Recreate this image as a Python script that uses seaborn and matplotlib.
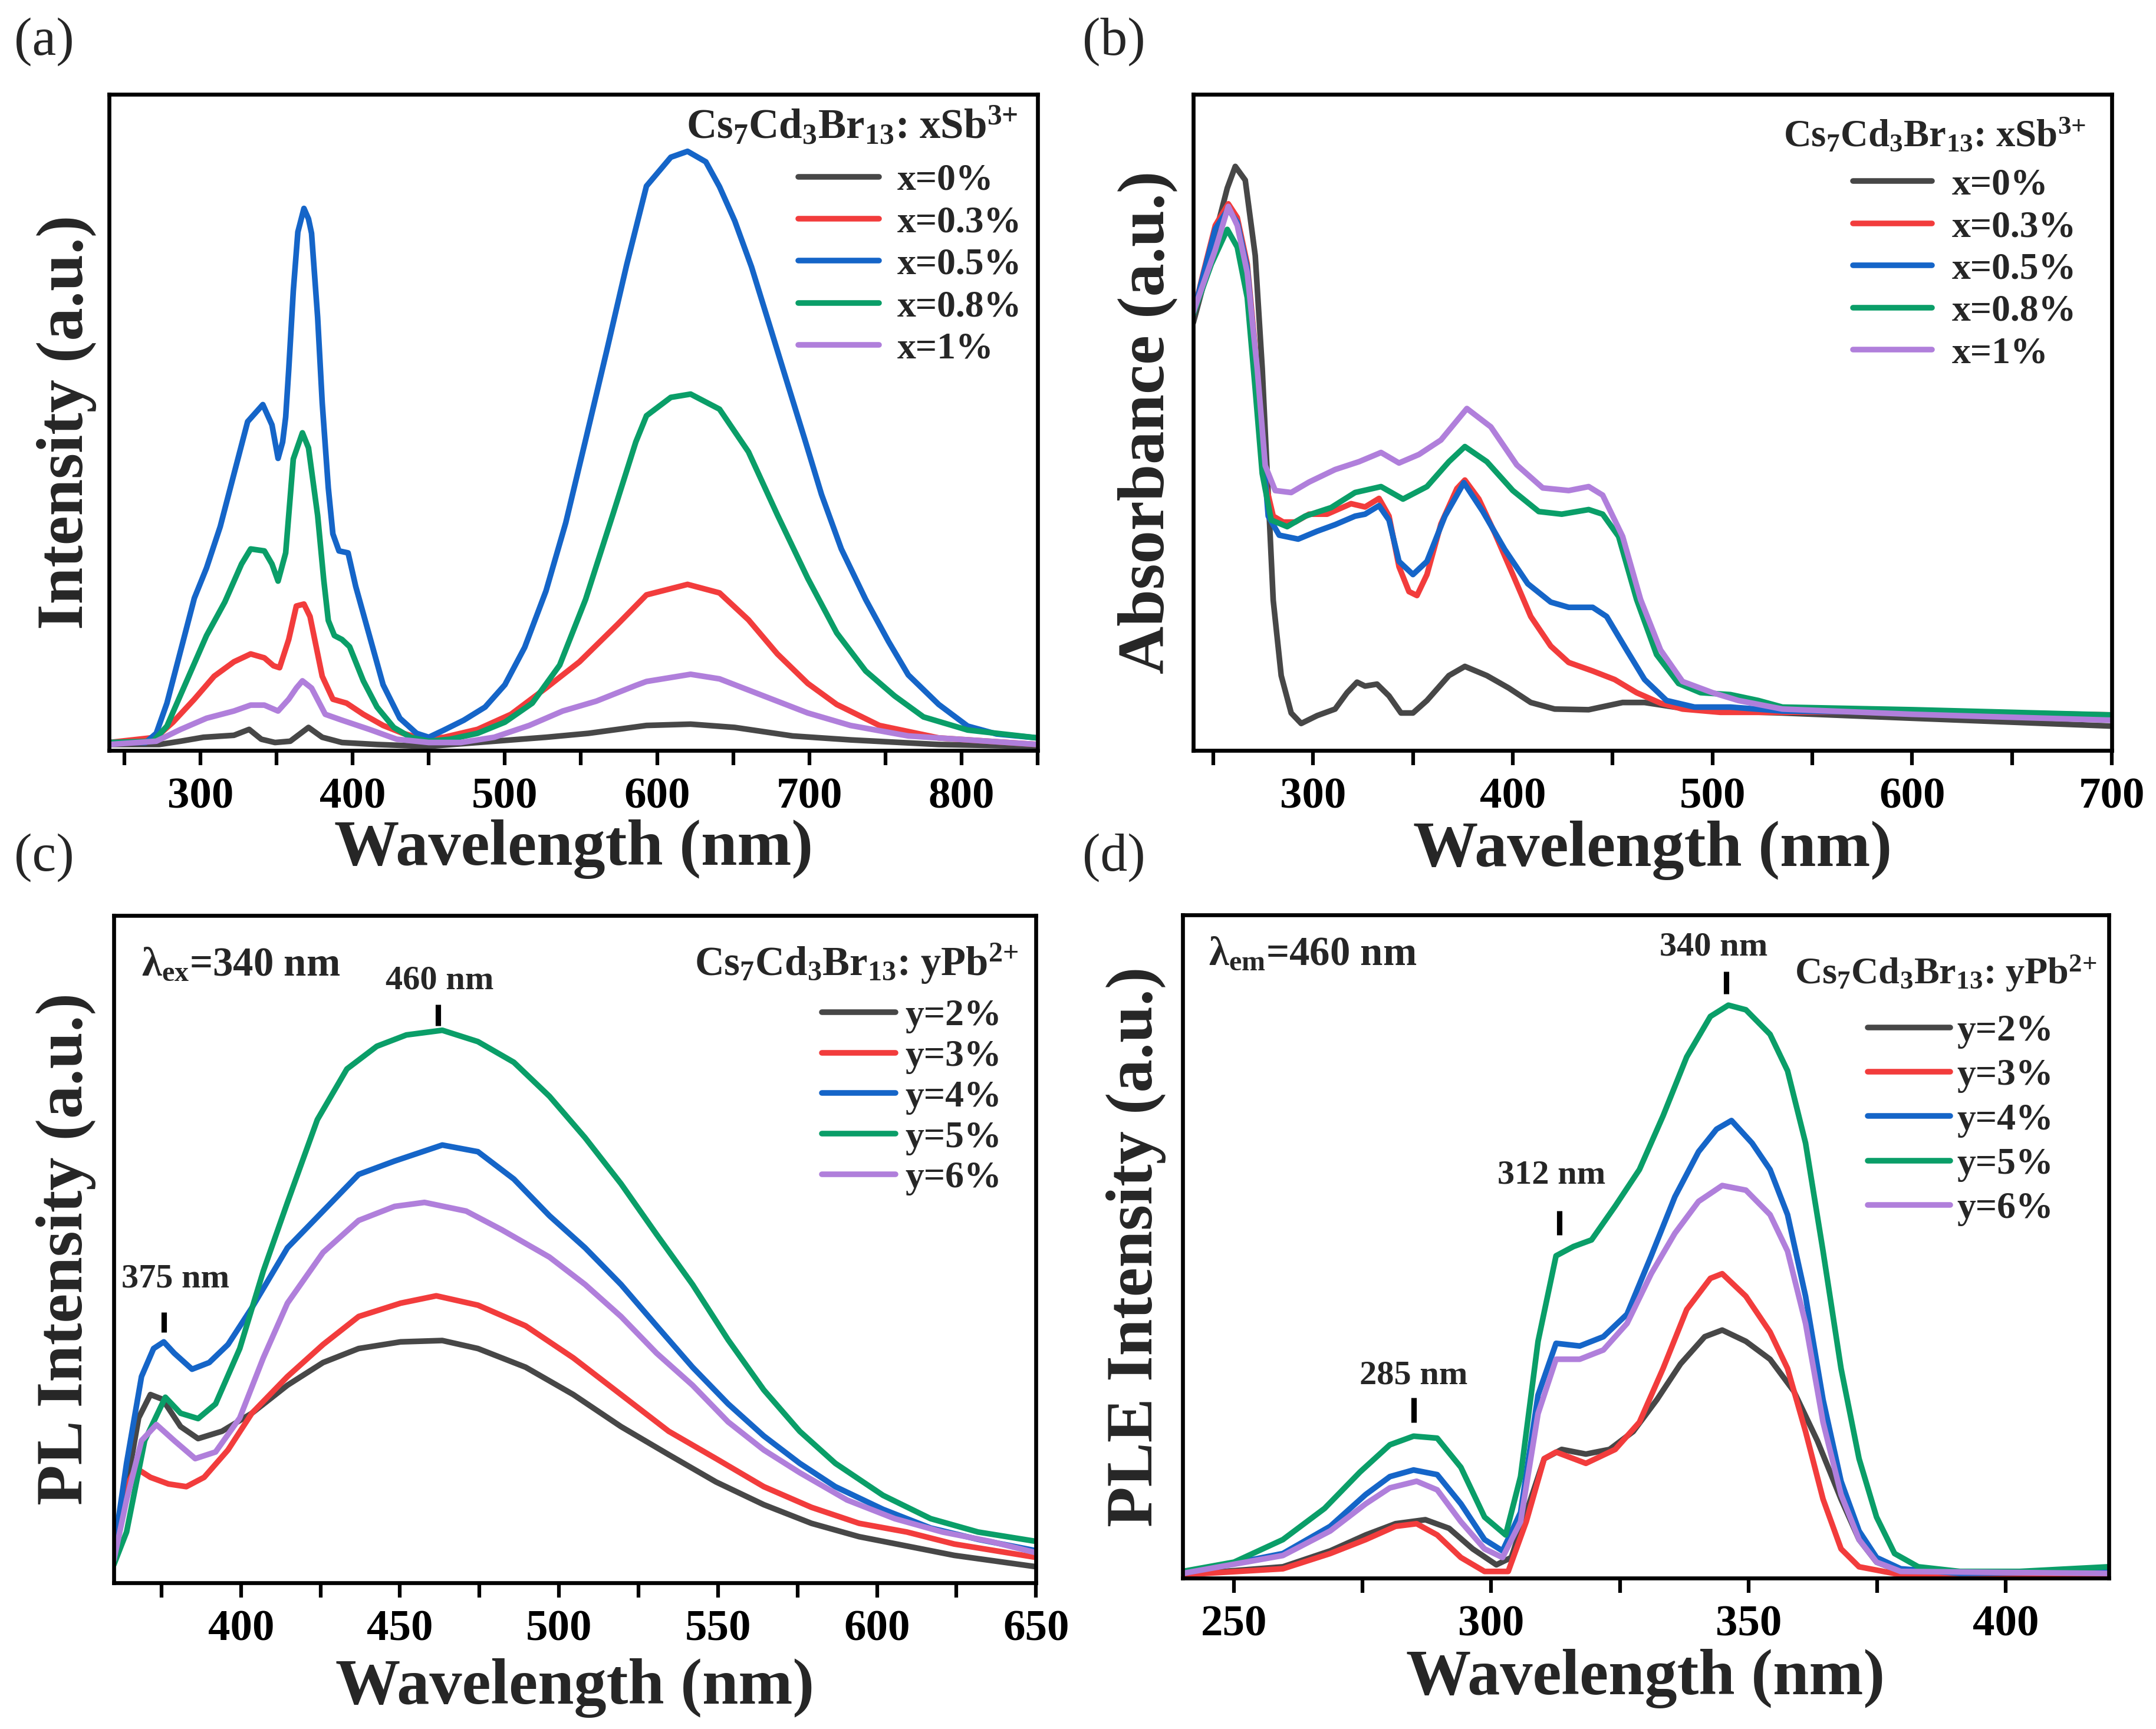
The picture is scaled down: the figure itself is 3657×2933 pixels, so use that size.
import matplotlib
matplotlib.use("Agg")
import matplotlib.pyplot as plt
from matplotlib.ticker import MultipleLocator
from matplotlib.lines import Line2D
import seaborn as sns

# ---------------- data (% of axis height) ----------------
# (a) PL of Cs7Cd3Br13: xSb3+
a_labels = ["x=0%", "x=0.3%", "x=0.5%", "x=0.8%", "x=1%"]
a_wl_0 = [240, 273, 287, 302, 322, 332, 340, 349, 359, 371, 380, 393, 416, 449, 482, 527, 555, 593, 622, 651, 689, 727, 785, 850]
a_in_0 = [0.9, 0.9, 1.4, 2.0, 2.3, 3.2, 1.7, 1.2, 1.4, 3.5, 2.0, 1.2, 0.9, 0.6, 1.2, 2.0, 2.6, 3.8, 4.0, 3.5, 2.2, 1.6, 0.9, 0.6]
a_wl_1 = [240, 271, 282, 296, 309, 322, 333, 342, 348, 352, 358, 363, 368, 372, 380, 387, 396, 407, 420, 433, 447, 460, 482, 504, 527, 549, 574, 593, 620, 641, 660, 679, 699, 718, 746, 785, 850]
a_in_1 = [1.2, 2.0, 4.3, 7.8, 11.3, 13.5, 14.7, 14.1, 12.9, 12.6, 16.9, 22.0, 22.3, 20.4, 11.3, 7.8, 7.2, 5.5, 3.8, 2.6, 1.7, 2.0, 3.2, 5.5, 9.5, 13.5, 19.2, 23.7, 25.3, 24.0, 19.9, 14.7, 10.2, 7.0, 3.8, 1.9, 0.9]
a_wl_2 = [240, 264, 271, 278, 287, 296, 304, 313, 322, 331, 341, 347, 351, 354, 356, 358, 361, 364, 368, 371, 373, 377, 380, 384, 387, 391, 397, 402, 411, 420, 431, 442, 450, 460, 473, 487, 500, 513, 527, 540, 553, 567, 580, 593, 609, 620, 632, 641, 651, 662, 674, 685, 697, 708, 721, 737, 752, 765, 785, 804, 823, 850]
a_in_2 = [1.2, 1.2, 2.6, 7.2, 15.2, 23.2, 27.8, 34.1, 42.1, 50.1, 52.7, 49.6, 44.5, 47.0, 50.8, 58.0, 70.0, 79.0, 82.6, 81.0, 78.8, 66.0, 53.0, 40.0, 33.0, 30.4, 30.1, 25.0, 17.5, 10.0, 4.9, 2.6, 2.0, 3.1, 4.6, 6.6, 10.0, 15.7, 24.3, 34.7, 47.3, 61.0, 74.0, 86.0, 90.4, 91.3, 89.7, 85.9, 80.7, 73.7, 64.7, 56.4, 47.4, 39.0, 30.7, 23.0, 16.6, 11.5, 7.0, 3.7, 2.5, 1.9]
a_wl_3 = [240, 269, 278, 291, 304, 316, 327, 333, 342, 347, 351, 356, 361, 367, 371, 377, 381, 384, 388, 393, 398, 407, 416, 427, 438, 450, 464, 482, 500, 518, 536, 553, 571, 586, 593, 609, 622, 641, 660, 679, 699, 718, 737, 756, 775, 804, 850]
a_in_3 = [1.2, 1.4, 3.7, 10.6, 17.5, 22.6, 28.4, 30.7, 30.4, 28.4, 25.8, 30.1, 44.4, 48.4, 46.1, 35.8, 26.0, 19.8, 17.5, 16.9, 15.8, 10.6, 6.6, 3.5, 2.0, 1.4, 1.7, 2.6, 4.3, 7.2, 13.0, 23.0, 36.0, 47.0, 51.0, 53.8, 54.3, 52.0, 45.5, 35.9, 26.2, 17.9, 12.1, 8.3, 5.1, 3.1, 1.9]
a_wl_4 = [240, 271, 287, 304, 322, 333, 342, 351, 358, 363, 367, 373, 382, 393, 411, 429, 450, 471, 493, 516, 538, 560, 586, 593, 622, 641, 670, 699, 727, 765, 850]
a_in_4 = [0.9, 1.4, 3.2, 4.9, 6.0, 6.9, 6.9, 6.0, 7.8, 9.5, 10.6, 9.5, 5.5, 4.6, 3.2, 1.7, 1.2, 1.2, 2.0, 3.8, 6.0, 7.5, 9.9, 10.5, 11.6, 10.9, 8.3, 5.7, 3.8, 2.2, 0.9]

# (b) absorbance of Cs7Cd3Br13: xSb3+
b_labels = ["x=0%", "x=0.3%", "x=0.5%", "x=0.8%", "x=1%"]
b_wl_0 = [240, 245, 251, 257, 261, 266, 271, 274.5, 277.5, 280, 284, 289, 294, 302, 311, 317, 322, 326, 332, 338, 344, 350, 357, 368, 376, 387, 398, 409, 421, 438, 455, 466, 481, 504, 535, 600, 700]
b_ab_0 = [65.2, 70.9, 78.6, 85.7, 89.0, 86.9, 75.4, 58.2, 39.0, 22.9, 11.4, 5.7, 4.1, 5.3, 6.3, 8.8, 10.4, 9.8, 10.1, 8.3, 5.7, 5.7, 7.6, 11.4, 12.8, 11.4, 9.5, 7.3, 6.3, 6.2, 7.3, 7.3, 6.6, 6.0, 5.7, 4.9, 3.7]
b_wl_1 = [240, 245, 251, 257.5, 262, 267, 271, 273.5, 276.5, 280, 285, 291, 298, 307, 319, 326, 333, 338, 343, 348, 352, 357, 364, 372, 376, 383, 391, 400, 409, 419, 428, 440, 451, 462, 474, 485, 504, 535, 600, 700]
b_ab_1 = [66.5, 72.8, 80.0, 83.3, 81.2, 74.1, 61.3, 48.5, 40.2, 35.7, 34.8, 34.8, 36.0, 36.0, 37.6, 37.1, 38.4, 35.7, 28.0, 24.2, 23.6, 26.8, 34.5, 39.9, 41.2, 38.3, 33.1, 26.8, 20.4, 15.9, 13.4, 12.1, 10.8, 8.8, 7.2, 6.3, 5.8, 5.8, 6.0, 5.4]
b_wl_2 = [240, 245, 251, 257.5, 262, 267, 271, 274.5, 277.5, 283, 292.5, 302, 311, 321, 326, 333, 338, 343, 350, 357, 366, 375.5, 385, 396, 407.5, 419, 428, 440, 447, 457, 466, 477, 491, 509, 535, 600, 700]
b_ab_2 = [66.5, 72.5, 79.5, 82.5, 80.5, 73.5, 60.5, 47.0, 35.7, 32.8, 32.2, 33.4, 34.4, 35.7, 36.0, 37.3, 35.1, 28.8, 26.8, 28.8, 35.7, 40.8, 36.4, 30.6, 25.4, 22.6, 21.8, 21.8, 20.4, 15.3, 10.8, 7.6, 6.6, 6.6, 6.0, 5.8, 5.2]
b_wl_3 = [240, 249, 257, 262, 267, 271, 274.5, 279, 287, 296, 309, 321, 334, 345, 357, 368, 376, 387, 400, 413, 424.5, 438, 445, 453, 462, 472, 483, 494, 509, 523, 535, 600, 700]
b_ab_3 = [66.5, 74.1, 79.4, 76.7, 69.0, 55.0, 42.2, 35.1, 34.1, 35.7, 37.0, 39.3, 40.2, 38.3, 40.2, 44.0, 46.3, 44.0, 39.6, 36.4, 36.0, 36.7, 36.0, 32.6, 23.0, 14.6, 10.2, 8.8, 8.5, 7.6, 6.6, 6.2, 5.4]
b_wl_4 = [240, 251, 257.5, 262, 267, 272, 276, 281, 289, 298, 311, 323, 334, 343, 353, 364, 377, 389, 402, 415, 428, 438, 445, 455, 464, 474, 485, 500, 513, 535, 600, 700]
b_ab_4 = [66.8, 76.3, 82.9, 80.0, 72.8, 58.2, 43.4, 39.6, 39.3, 40.9, 42.8, 44.0, 45.4, 43.8, 45.1, 47.3, 52.1, 49.3, 43.5, 40.0, 39.6, 40.2, 38.9, 32.6, 23.0, 15.3, 10.5, 8.8, 7.6, 6.3, 5.5, 4.6]

# (c) PL of Cs7Cd3Br13: yPb2+
c_labels = ["y=2%", "y=3%", "y=4%", "y=5%", "y=6%"]
c_wl_0 = [360, 364, 367.8, 371.5, 375.3, 381, 386.5, 394, 403.4, 414.6, 425.8, 437, 450.2, 463.3, 474.5, 489.5, 504.5, 519.5, 534.5, 549.4, 564.4, 579.4, 594.4, 609.4, 624.3, 650]
c_pl_0 = [6.2, 14.4, 24.7, 28.2, 27.5, 23.4, 21.6, 22.7, 25.4, 29.6, 33.0, 35.1, 36.1, 36.3, 35.1, 32.3, 28.2, 23.4, 19.2, 15.1, 11.7, 8.9, 6.9, 5.5, 4.1, 2.4]
c_wl_1 = [360, 364, 366.9, 371.5, 377.2, 382.8, 388.4, 395.9, 403.4, 414.6, 425.8, 437, 450.2, 461.4, 474.5, 489.5, 504.5, 519.5, 534.5, 549.4, 564.4, 579.4, 594.4, 609.4, 624.3, 650]
c_pl_1 = [5.5, 14.4, 17.2, 15.8, 14.8, 14.4, 15.8, 19.9, 25.4, 30.9, 35.7, 39.9, 41.9, 43.0, 41.6, 38.5, 33.7, 28.2, 22.7, 18.6, 14.4, 11.3, 8.9, 7.6, 5.8, 3.8]
c_wl_2 = [360, 364, 368.7, 372.5, 375.7, 379, 384.6, 390, 395.9, 403.4, 414.6, 425.8, 437, 448.3, 463.3, 474.5, 485.8, 497, 508.2, 519.5, 530.7, 542, 553.2, 564.4, 575.7, 586.9, 601.9, 616.9, 631.8, 650]
c_pl_2 = [4.8, 17.9, 30.9, 35.1, 36.1, 34.4, 32.0, 33.0, 35.7, 41.2, 50.2, 55.7, 61.2, 63.2, 65.6, 64.6, 60.5, 55.0, 50.2, 44.7, 38.5, 32.3, 26.8, 22.0, 17.9, 14.4, 11.0, 8.2, 6.5, 4.8]
c_wl_3 = [360, 364, 369.7, 376.2, 381, 386.5, 392, 399.6, 407, 414.6, 424, 433.3, 442.7, 452, 463.3, 474.5, 485.8, 497, 508.2, 519.5, 530.7, 542, 553.2, 564.4, 575.7, 586.9, 601.9, 616.9, 631.8, 650]
c_pl_3 = [2.7, 7.6, 21.3, 27.8, 25.4, 24.6, 26.8, 35.1, 46.7, 57.0, 69.4, 77.0, 80.4, 82.1, 82.8, 81.1, 78.0, 72.9, 66.7, 59.8, 52.2, 44.7, 36.4, 28.9, 22.7, 17.9, 13.1, 9.6, 7.6, 6.2]
c_wl_4 = [360, 364, 368.7, 373.4, 379, 385.6, 392, 399.6, 407, 414.6, 425.8, 437, 448.3, 457.7, 470.8, 482, 497, 508.2, 519.5, 530.7, 542, 553.2, 564.4, 575.7, 590.6, 605.6, 620.6, 635.6, 650]
c_pl_4 = [3.4, 12.4, 21.3, 23.7, 21.3, 18.6, 19.6, 24.7, 33.7, 41.9, 49.5, 54.3, 56.4, 57.0, 55.7, 52.9, 48.8, 44.7, 39.9, 34.4, 29.6, 24.1, 19.9, 16.5, 12.4, 9.6, 7.6, 6.2, 4.5]

# (d) PLE of Cs7Cd3Br13: yPb2+
d_labels = ["y=2%", "y=3%", "y=4%", "y=5%", "y=6%"]
d_wl_0 = [240, 259.5, 268.7, 275.6, 281.4, 287.2, 291.8, 296.4, 301, 303.9, 306.8, 310.3, 313.7, 318.4, 323, 327.6, 332.2, 336.8, 341.5, 344.9, 349.5, 354.2, 358.8, 363.4, 368, 371.5, 374.9, 379.6, 391, 420]
d_pl_0 = [0.5, 1.7, 4.1, 6.5, 8.2, 8.8, 7.5, 4.4, 2.0, 3.1, 9.9, 18.0, 19.4, 18.7, 19.4, 22.1, 26.9, 32.3, 36.4, 37.4, 35.7, 33.0, 28.2, 20.7, 11.9, 5.8, 2.4, 1.0, 0.5, 0.7]
d_wl_1 = [240, 259.5, 268.7, 275.6, 281.4, 285.5, 289.5, 294.1, 298.7, 303.3, 306.8, 310.3, 312.6, 318.4, 324.1, 328.8, 333.4, 338, 342.6, 344.9, 349.5, 354.2, 357.6, 361.1, 364.5, 368, 371.5, 379.6, 420]
d_pl_1 = [0.5, 1.4, 3.7, 5.8, 7.8, 8.2, 6.5, 3.1, 1.0, 1.0, 8.5, 18.0, 19.0, 17.3, 19.4, 23.5, 31.6, 40.5, 45.2, 45.9, 42.5, 37.1, 31.6, 22.1, 11.9, 4.4, 1.7, 0.5, 0.3]
d_wl_2 = [240, 259.5, 268.7, 275.6, 280.3, 284.9, 289.5, 294.1, 298.7, 302.2, 305.7, 309.1, 312.6, 317.2, 321.8, 326.4, 331.1, 335.7, 340.3, 343.8, 346.7, 350.7, 354.2, 357.6, 361.1, 364.5, 368, 371.5, 374.9, 379.6, 391.1, 420]
d_pl_2 = [0.7, 3.7, 7.8, 12.6, 15.3, 16.3, 15.6, 11.2, 5.8, 4.1, 9.9, 27.6, 35.4, 35.0, 36.4, 39.8, 48.6, 57.5, 64.3, 67.7, 69.0, 65.6, 61.6, 54.8, 42.5, 26.9, 14.6, 7.1, 3.1, 1.4, 0.7, 1.0]
d_wl_3 = [240, 250, 259.5, 267.6, 274.5, 280.3, 284.9, 289.5, 294.1, 298.7, 302.8, 305.7, 309.1, 312.6, 316, 319.5, 324.1, 328.8, 333.4, 338, 342.6, 346.1, 349.5, 354.2, 357.6, 361.1, 364.5, 368, 371.5, 374.9, 378.4, 383, 391.1, 402.7, 420]
d_pl_3 = [1.0, 2.4, 5.8, 10.5, 16.0, 20.1, 21.4, 21.1, 16.7, 9.2, 6.5, 15.3, 35.7, 48.6, 50.0, 51.0, 56.1, 61.6, 69.7, 78.6, 84.7, 86.4, 85.7, 82.0, 76.5, 65.6, 49.3, 31.6, 18.0, 9.2, 3.7, 1.7, 1.0, 1.0, 1.7]
d_wl_4 = [240, 259.5, 268.7, 275.6, 280.3, 285.5, 289.5, 294.1, 298.7, 302.2, 305.7, 309.1, 312.6, 317.2, 321.8, 326.4, 331.1, 335.7, 340.3, 344.9, 349.5, 354.2, 357.6, 361.1, 364.5, 368, 371.5, 374.9, 379.6, 420]
d_pl_4 = [0.7, 3.4, 7.1, 11.2, 13.6, 14.6, 13.3, 8.5, 4.4, 3.1, 8.5, 24.8, 33.0, 33.0, 34.4, 38.4, 45.9, 52.0, 56.8, 59.2, 58.5, 54.8, 49.3, 38.4, 23.5, 12.6, 5.8, 2.4, 1.0, 0.7]

# peak annotations: (text, text x, text baseline y, tick x, tick y0, tick y1)
c_marks = [("460 nm", 462.4, 89.0, 462.0, 83.5, 86.7), ("375 nm", 379.4, 44.3, 375.7, 37.5, 40.5)]
d_marks = [("340 nm", 343.2, 93.9, 345.7, 88.1, 91.5), ("312 nm", 311.7, 59.5, 313.2, 51.7, 55.4), ("285 nm", 284.9, 29.3, 284.9, 23.5, 27.2)]

colors = ["#474747", "#f23c3c", "#1565c8", "#0a9e68", "#b07fdb"]

# ---------------- style ----------------
sns.set_style("ticks")
plt.rcParams["font.family"] = ["Liberation Serif", "DejaVu Serif"]
plt.rcParams["font.weight"] = "bold"
plt.rcParams["axes.labelweight"] = "bold"
plt.rcParams["axes.linewidth"] = 1.6
plt.rcParams["axes.edgecolor"] = "black"
plt.rcParams["mathtext.fontset"] = "custom"
plt.rcParams["mathtext.rm"] = "Liberation Serif"
plt.rcParams["mathtext.it"] = "Liberation Serif:italic"
plt.rcParams["mathtext.bf"] = "Liberation Serif:bold"

fig = plt.figure(figsize=(3657 / 300, 2933 / 300), dpi=300)
ax_a = fig.add_axes([0.0506, 0.566, 0.4307, 0.3795])
ax_b = fig.add_axes([0.5535, 0.566, 0.4260, 0.3795])
ax_c = fig.add_axes([0.0528, 0.0846, 0.4277, 0.3859])
ax_d = fig.add_axes([0.5485, 0.0873, 0.4295, 0.3835])

LW = 2.3
ENTRY_FS = 15.3


def draw(ax, series):
    for (wl, val), col in zip(series, colors):
        sns.lineplot(x=wl, y=val, ax=ax, color=col, lw=LW, legend=False, estimator=None)


def style(ax, xlim, major, minor, ylabel, ylab_x, xlab_y):
    ax.set_xlim(*xlim)
    ax.set_ylim(0, 100)
    ax.set_yticks([])
    ax.xaxis.set_major_locator(MultipleLocator(major))
    ax.xaxis.set_minor_locator(MultipleLocator(minor))
    ax.tick_params(axis="x", which="both", direction="out", length=6, width=1.5,
                   labelsize=18, pad=5, colors="black")
    for t in ax.get_xticklabels():
        t.set_fontweight("bold")
    for s in ax.spines.values():
        s.set_visible(True)
        s.set_linewidth(1.6)
    ax.set_xlabel("Wavelength (nm)", fontsize=26.5, fontweight="bold")
    ax.set_ylabel(ylabel, fontsize=27, fontweight="bold")
    ax.xaxis.label.set_va("center")
    ax.yaxis.label.set_va("center")
    ax.xaxis.set_label_coords(0.5, xlab_y)
    ax.yaxis.set_label_coords(ylab_x, 0.5)


def legend(ax, labels, title, title_fs, title_xy, line_x, row1_y, hl, pad, ls):
    # title as text, entries as a legend (frameless)
    ax.text(title_xy[0], title_xy[1], title, transform=ax.transAxes, ha="right", va="center",
            fontsize=title_fs, fontweight="bold")
    handles = [Line2D([], [], color=c, lw=LW) for c in colors]
    bbox = ax.get_position()
    ax_h_pt = bbox.height * fig.get_figheight() * 72
    top = row1_y + 0.48 * ENTRY_FS / ax_h_pt
    lg = ax.legend(handles, labels, loc="upper left", bbox_to_anchor=(line_x, top),
                   frameon=False, fontsize=ENTRY_FS, handlelength=hl, handletextpad=pad,
                   labelspacing=ls, borderaxespad=0, borderpad=0)
    for t in lg.get_texts():
        t.set_fontweight("bold")


sb_title = r"Cs$_{\mathrm{7}}$Cd$_{\mathrm{3}}$Br$_{\mathrm{13}}$: xSb$^{\mathrm{3{+}}}$"
pb_title = r"Cs$_{\mathrm{7}}$Cd$_{\mathrm{3}}$Br$_{\mathrm{13}}$: yPb$^{\mathrm{2{+}}}$"

# (a)
draw(ax_a, [(a_wl_0, a_in_0), (a_wl_1, a_in_1), (a_wl_2, a_in_2), (a_wl_3, a_in_3), (a_wl_4, a_in_4)])
style(ax_a, (240, 850), 100, 50, "Intensity (a.u.)", -0.046, -0.151)
legend(ax_a, a_labels, sb_title, 17.0, (0.979, 0.951), 0.742, 0.867, 2.15, 0.49, 0.2)

# (b)
draw(ax_b, [(b_wl_0, b_ab_0), (b_wl_1, b_ab_1), (b_wl_2, b_ab_2), (b_wl_3, b_ab_3), (b_wl_4, b_ab_4)])
style(ax_b, (240, 700), 100, 50, "Absorbance (a.u.)", -0.05, -0.152)
legend(ax_b, b_labels, sb_title, 15.5, (0.972, 0.937), 0.718, 0.86, 2.1, 0.53, 0.2)

# (c)
draw(ax_c, [(c_wl_0, c_pl_0), (c_wl_1, c_pl_1), (c_wl_2, c_pl_2), (c_wl_3, c_pl_3), (c_wl_4, c_pl_4)])
style(ax_c, (360, 650), 50, 25, "PL Intensity (a.u.)", -0.052, -0.158)
legend(ax_c, c_labels, pb_title, 16.5, (0.981, 0.928), 0.768, 0.848, 1.96, 0.25, 0.16)
ax_c.text(0.03, 0.91, r"$\mathrm{\lambda}_{\mathbf{ex}}$=340 nm", transform=ax_c.transAxes,
          fontsize=16.5, fontweight="bold", ha="left", va="baseline")
for txt, tx, ty, kx, k0, k1 in c_marks:
    ax_c.text(tx, ty, txt, fontsize=14, fontweight="bold", ha="center", va="baseline")
    ax_c.vlines(kx, k0, k1, color="black", lw=2.2)

# (d)
draw(ax_d, [(d_wl_0, d_pl_0), (d_wl_1, d_pl_1), (d_wl_2, d_pl_2), (d_wl_3, d_pl_3), (d_wl_4, d_pl_4)])
style(ax_d, (240, 420), 50, 25, "PLE Intensity (a.u.)", -0.05, -0.152)
legend(ax_d, d_labels, pb_title, 15.4, (0.987, 0.912), 0.74, 0.823, 2.19, 0.18, 0.26)
ax_d.text(0.028, 0.925, r"$\mathrm{\lambda}_{\mathbf{em}}$=460 nm", transform=ax_d.transAxes,
          fontsize=16.5, fontweight="bold", ha="left", va="baseline")
for txt, tx, ty, kx, k0, k1 in d_marks:
    ax_d.text(tx, ty, txt, fontsize=14, fontweight="bold", ha="center", va="baseline")
    ax_d.vlines(kx, k0, k1, color="black", lw=2.2)

# panel letters
for lab, x, y in [("(a)", 0.0065, 0.976), ("(b)", 0.502, 0.976), ("(c)", 0.0065, 0.504), ("(d)", 0.502, 0.504)]:
    fig.text(x, y, lab, fontsize=22, fontweight="normal", ha="left", va="center")

fig.savefig("out.png", dpi=300)
